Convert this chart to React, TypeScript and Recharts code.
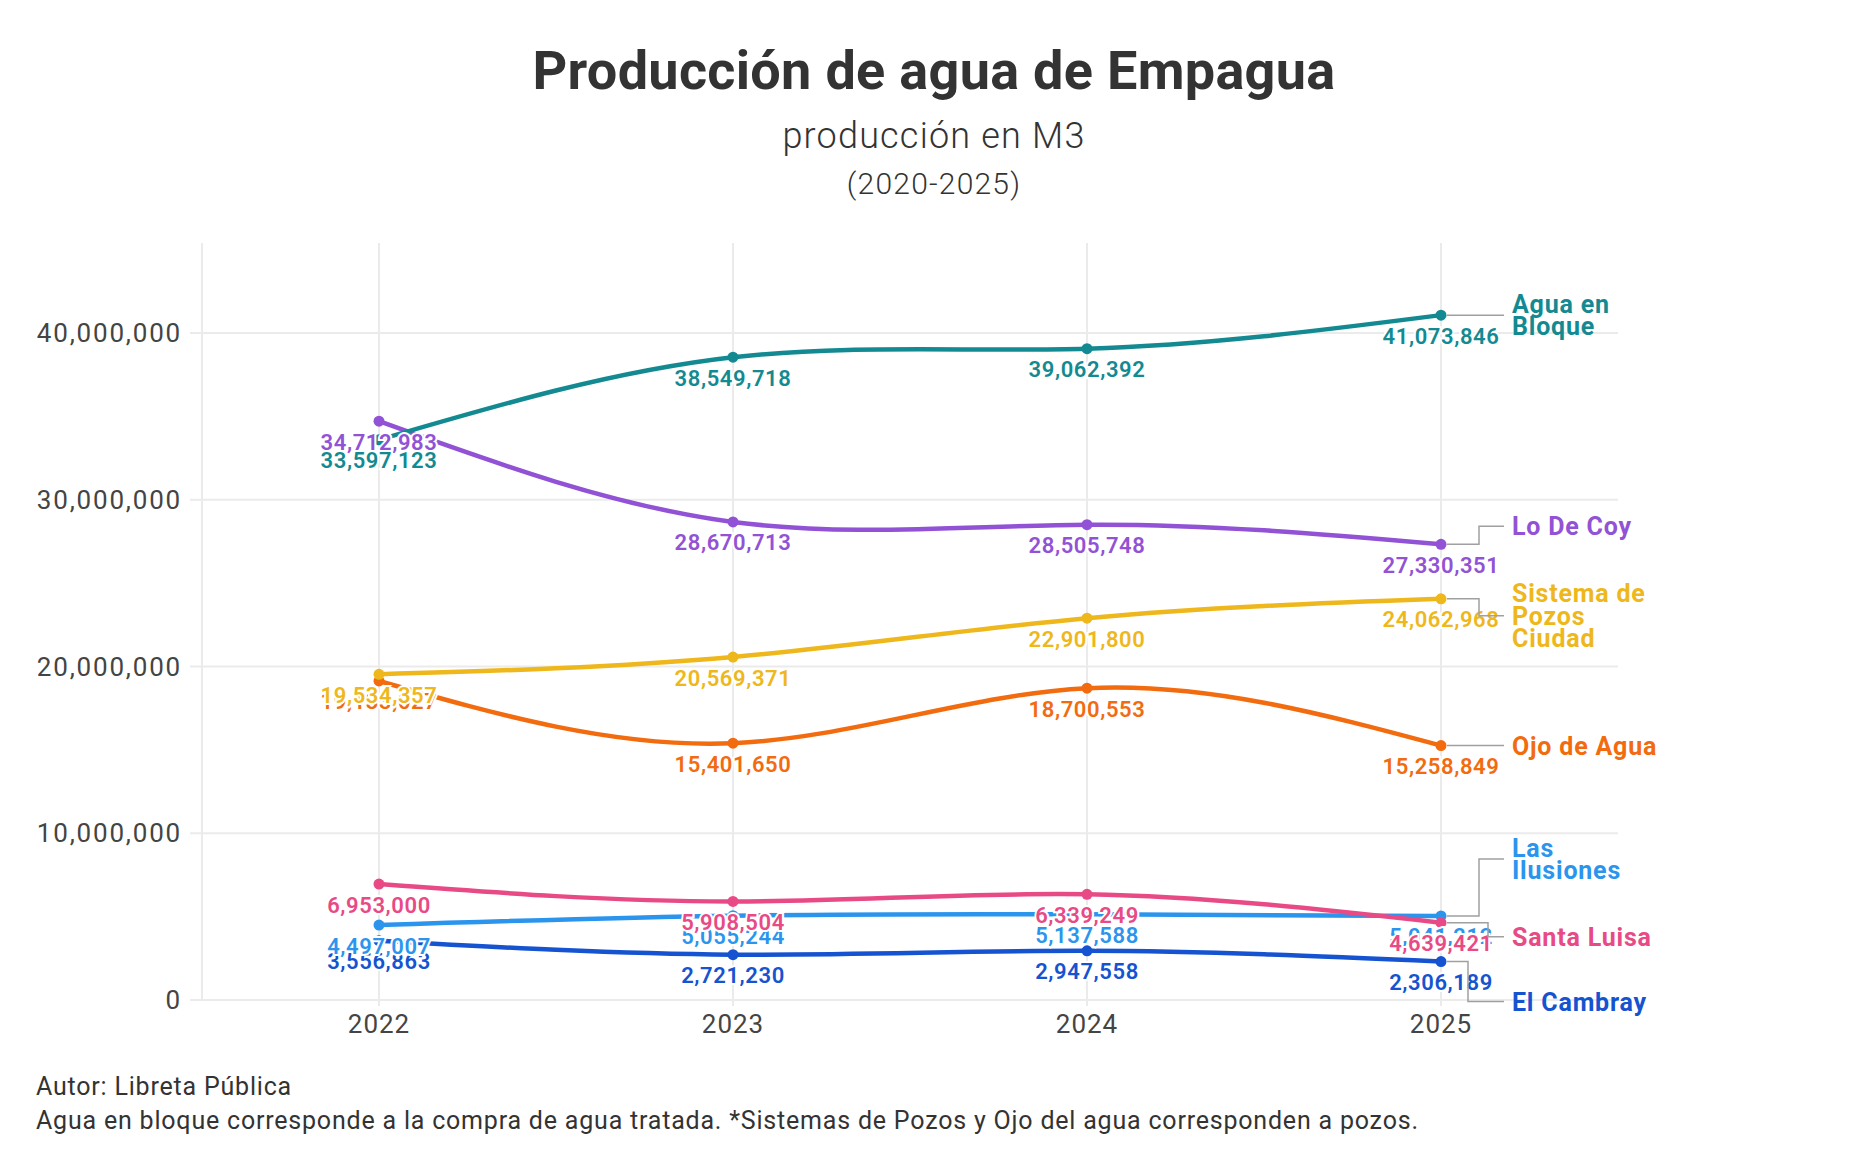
import React from 'react';
import { LineChart, Line, XAxis, YAxis, ReferenceLine, LabelList } from 'recharts';

const years = [2022, 2023, 2024, 2025];
const aguaEnBloque = [33597123, 38549718, 39062392, 41073846];
const loDeCoy = [34712983, 28670713, 28505748, 27330351];
const sistemaPozos = [19534357, 20569371, 22901800, 24062968];
const ojoDeAgua = [19133027, 15401650, 18700553, 15258849];
const lasIlusiones = [4497007, 5055244, 5137588, 5041212];
const santaLuisa = [6953000, 5908504, 6339249, 4639421];
const elCambray = [3556863, 2721230, 2947558, 2306189];
const yTicks = [0, 10000000, 20000000, 30000000, 40000000];

const data = years.map((year, i) => ({
    year,
    aguaEnBloque: aguaEnBloque[i],
    loDeCoy: loDeCoy[i],
    sistemaPozos: sistemaPozos[i],
    ojoDeAgua: ojoDeAgua[i],
    lasIlusiones: lasIlusiones[i],
    santaLuisa: santaLuisa[i],
    elCambray: elCambray[i],
}));

// label order = drawing order (last one on top)
const series = [
    { key: 'elCambray', name: ['El Cambray'], color: '#1553d1', elbow: 27, shift: 40 },
    { key: 'lasIlusiones', name: ['Las', 'Ilusiones'], color: '#2b95ee', elbow: 38, shift: -57 },
    { key: 'santaLuisa', name: ['Santa Luisa'], color: '#e84a86', elbow: 47, shift: 14 },
    { key: 'ojoDeAgua', name: ['Ojo de Agua'], color: '#f26b0f', elbow: 38, shift: 0 },
    { key: 'sistemaPozos', name: ['Sistema de', 'Pozos', 'Ciudad'], color: '#eeb71b', elbow: 38, shift: 17 },
    { key: 'loDeCoy', name: ['Lo De Coy'], color: '#9152d5', elbow: 38, shift: -18 },
    { key: 'aguaEnBloque', name: ['Agua en', 'Bloque'], color: '#138a91', elbow: 38, shift: 0 },
];

const FONT = 'Roboto, "Noto Sans", sans-serif';
const GRID = '#ebebeb';
const fmt = (v: number) => v.toLocaleString('en-US');

function makeLabel(s: typeof series[number]) {
    return (props: any) => {
        const { x, y, value, index } = props;
        if (x == null || y == null) return null;
        const isLast = index === years.length - 1;
        const ty = y + s.shift;
        const lineH = 22.5;
        const firstY = ty - ((s.name.length - 1) * lineH) / 2;
        return (
            <g>
                <text
                    x={x}
                    y={y + 21}
                    textAnchor="middle"
                    dominantBaseline="central"
                    fill={s.color}
                    stroke="#fff"
                    strokeWidth={4}
                    paintOrder="stroke"
                    style={{ fontFamily: FONT, fontSize: 22, fontWeight: 600, letterSpacing: 0.6 }}
                >
                    {fmt(value)}
                </text>
                {isLast && (
                    <g>
                        <polyline
                            points={`${x + 6},${y} ${x + s.elbow},${y} ${x + s.elbow},${ty} ${x + 63},${ty}`}
                            fill="none"
                            stroke="#a0a0a0"
                            strokeWidth={1.5}
                        />
                        <text
                            x={x + 71}
                            fill={s.color}
                            dominantBaseline="central"
                            style={{ fontFamily: FONT, fontSize: 25, fontWeight: 700, letterSpacing: 0.8 }}
                        >
                            {s.name.map((n, k) => (
                                <tspan key={k} x={x + 71} y={firstY + k * lineH}>{n}</tspan>
                            ))}
                        </text>
                    </g>
                )}
            </g>
        );
    };
}

export default function App() {
    return (
        <div style={{ position: 'relative', width: 1868, height: 1164, background: '#fff', fontFamily: FONT }}>
            <style>{`body{margin:0;background:#fff}`}</style>
            <LineChart width={1868} height={1164} data={data} margin={{ top: 243, right: 250, bottom: 124, left: 12 }}>
                {yTicks.map((t) => (
                    <ReferenceLine key={'h' + t} y={t} stroke={GRID} strokeWidth={2} />
                ))}
                {years.map((yr) => (
                    <ReferenceLine key={'v' + yr} x={yr} stroke={GRID} strokeWidth={2} />
                ))}
                <XAxis
                    dataKey="year"
                    type="number"
                    domain={[2021.5, 2025.5]}
                    ticks={years}
                    height={40}
                    axisLine={false}
                    tickLine={{ stroke: GRID, strokeWidth: 2 }}
                    tickSize={6}
                    tickMargin={9}
                    tick={{ fill: '#444', fontSize: 26, fontFamily: FONT, letterSpacing: 1 }}
                />
                <YAxis
                    type="number"
                    domain={[0, 45400000]}
                    ticks={yTicks}
                    width={190}
                    axisLine={{ stroke: GRID, strokeWidth: 2 }}
                    tickLine={{ stroke: GRID, strokeWidth: 2 }}
                    tickSize={12}
                    tickMargin={8}
                    tickFormatter={fmt}
                    tick={{ fill: '#444', fontSize: 26, fontFamily: FONT, letterSpacing: 1.8 }}
                />
                {series.map((s) => (
                    <Line
                        key={s.key}
                        dataKey={s.key}
                        type="natural"
                        stroke={s.color}
                        strokeWidth={4.5}
                        dot={{ r: 5.5, fill: s.color, stroke: s.color, strokeWidth: 0 }}
                        activeDot={false}
                        isAnimationActive={false}
                    />
                ))}
                {series.map((s) => (
                    <Line
                        key={s.key + '-labels'}
                        dataKey={s.key}
                        type="natural"
                        stroke="none"
                        dot={false}
                        activeDot={false}
                        legendType="none"
                        isAnimationActive={false}
                    >
                        <LabelList dataKey={s.key} content={makeLabel(s)} />
                    </Line>
                ))}
            </LineChart>
            <svg width={1868} height={1164} style={{ position: 'absolute', left: 0, top: 0, pointerEvents: 'none' }}>
                <text x={934} y={89} textAnchor="middle" fill="#333" style={{ fontFamily: FONT, fontSize: 54, fontWeight: 700, letterSpacing: 0.3 }}>
                    Producción de agua de Empagua
                </text>
                <text x={934} y={148} textAnchor="middle" fill="#333" style={{ fontFamily: FONT, fontSize: 36, fontWeight: 300, letterSpacing: 1.2 }}>
                    producción en M3
                </text>
                <text x={934} y={194} textAnchor="middle" fill="#333" style={{ fontFamily: FONT, fontSize: 30, fontWeight: 300, letterSpacing: 1.2 }}>
                    (2020-2025)
                </text>
                <text x={36} y={1095} fill="#333" style={{ fontFamily: FONT, fontSize: 25, letterSpacing: 0.8 }}>
                    Autor: Libreta Pública
                </text>
                <text x={36} y={1129} fill="#333" style={{ fontFamily: FONT, fontSize: 25, letterSpacing: 0.8 }}>
                    Agua en bloque corresponde a la compra de agua tratada. *Sistemas de Pozos y Ojo del agua corresponden a pozos.
                </text>
            </svg>
        </div>
    );
}
